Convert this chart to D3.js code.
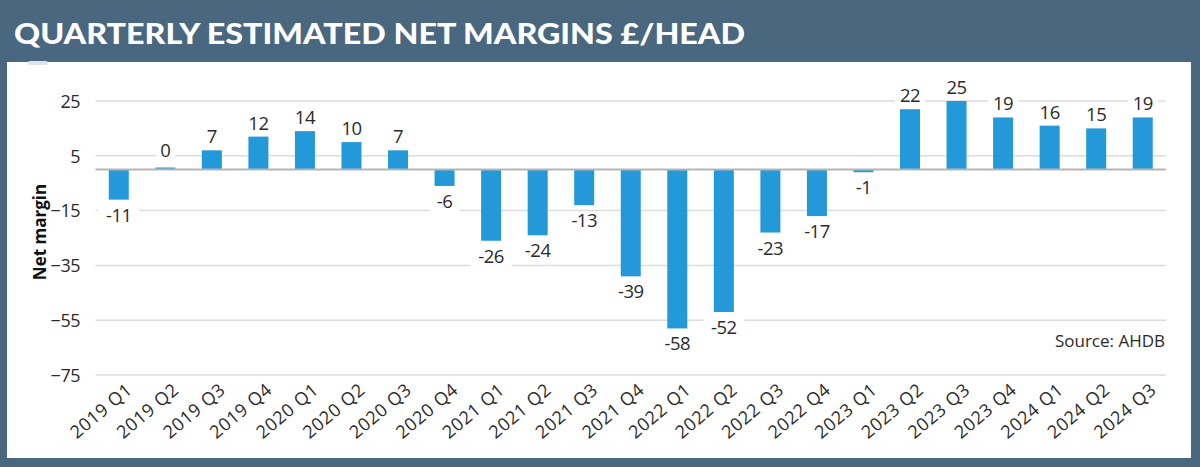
<!DOCTYPE html>
<html>
<head>
<meta charset="utf-8">
<script src="https://cdn.jsdelivr.net/npm/d3@7"></script>
<style>
  html, body { margin: 0; padding: 0; background: #4a6780; }
  svg { display: block; }
</style>
</head>
<body>
<svg id="chart" width="1200" height="467"></svg>
<script>
const categories = ["2019 Q1","2019 Q2","2019 Q3","2019 Q4","2020 Q1","2020 Q2","2020 Q3","2020 Q4",
  "2021 Q1","2021 Q2","2021 Q3","2021 Q4","2022 Q1","2022 Q2","2022 Q3","2022 Q4",
  "2023 Q1","2023 Q2","2023 Q3","2023 Q4","2024 Q1","2024 Q2","2024 Q3"];
const values = [-11, 0, 7, 12, 14, 10, 7, -6, -26, -24, -13, -39, -58, -52, -23, -17, -1, 22, 25, 19, 16, 15, 19];
const yTicks = [25, 5, -15, -35, -55, -75];
const title = "QUARTERLY ESTIMATED NET MARGINS £/HEAD";
const yTitle = "Net margin";
const source = "Source: AHDB";

const svg = d3.select("#chart");
const W = 1200, H = 467;
const dark = "#4a6780";
const barColor = "#2499d9";
const textColor = "#2b2b2b";

svg.append("rect").attr("width", W).attr("height", H).attr("fill", dark);
// white panel
svg.append("rect").attr("x", 7).attr("y", 62).attr("width", 1184).attr("height", 396).attr("fill", "#ffffff");
// small tab
svg.append("rect").attr("x", 28).attr("y", 61).attr("width", 20).attr("height", 4).attr("rx", 2).attr("fill", "#dfe4e8");

svg.append("text")
  .attr("x", 14).attr("y", 44)
  .attr("font-family", "Lato, 'Open Sans', sans-serif")
  .attr("font-weight", 900)
  .attr("font-size", 29)
  .attr("fill", "#ffffff")
  .attr("textLength", 731)
  .attr("lengthAdjust", "spacingAndGlyphs")
  .text(title);

const x = d3.scaleBand().domain(categories).range([95.5, 1166]).paddingInner(0.57).paddingOuter(0.285);
const y = d3.scaleLinear().domain([-75, 25]).range([375, 101]);

const font = "'Open Sans', Lato, sans-serif";

// gridlines
const grid = svg.append("g");
grid.selectAll("line").data(yTicks).join("line")
  .attr("x1", x.range()[0]).attr("x2", x.range()[1])
  .attr("y1", d => y(d)).attr("y2", d => y(d))
  .attr("stroke", "#dcdcdc").attr("stroke-width", 1.5);

// y-axis labels
const yAxis = svg.append("g").attr("transform", "translate(80,0)")
  .call(d3.axisLeft(y).tickValues(yTicks).tickSize(0).tickPadding(0).tickFormat(d3.format("d")));
yAxis.select(".domain").remove();
yAxis.selectAll("text")
  .attr("font-family", font).attr("font-size", 18).attr("fill", textColor)
  .attr("letter-spacing", "-0.5")
  .attr("dy", "0.35em");

// bars
svg.append("g").selectAll("rect").data(values).join("rect")
  .attr("x", (d, i) => x(categories[i]))
  .attr("width", x.bandwidth())
  .attr("y", d => d >= 0 ? y(d) - (d === 0 ? 2 : 0) : y(0))
  .attr("height", d => Math.max(Math.abs(y(d) - y(0)), 2))
  .attr("fill", barColor);

// zero line
svg.append("line")
  .attr("x1", x.range()[0]).attr("x2", x.range()[1])
  .attr("y1", y(0)).attr("y2", y(0))
  .attr("stroke", "#b5b5b5").attr("stroke-width", 2);

// value labels with white backgrounds
const lbl = svg.append("g").selectAll("g").data(values).join("g")
  .attr("transform", (d, i) => {
    const cx = x(categories[i]) + x.bandwidth() / 2;
    const yy = d >= 0 ? y(d) - (d === 0 ? 13 : 7) : y(d) + 22;
    return `translate(${cx},${yy})`;
  });
lbl.append("rect")
  .attr("x", d => -(String(d).length * 5.5 + 4))
  .attr("y", -15)
  .attr("width", d => String(d).length * 11 + 8)
  .attr("height", 19)
  .attr("fill", "#ffffff");
lbl.append("text")
  .attr("text-anchor", "middle")
  .attr("font-family", font).attr("font-size", 18.5).attr("fill", textColor)
  .attr("letter-spacing", "-0.5")
  .text(d => d);

// x-axis labels
const xAxis = svg.append("g").attr("transform", "translate(0,380)")
  .call(d3.axisBottom(x).tickSize(0).tickPadding(0));
xAxis.select(".domain").remove();
xAxis.selectAll("text")
  .attr("font-family", font).attr("font-size", 18).attr("fill", textColor)
  .attr("letter-spacing", "0.6")
  .attr("text-anchor", "end")
  .attr("dy", "0.85em")
  .attr("transform", "translate(5,0) rotate(-40)");

// y title
svg.append("text")
  .attr("transform", "translate(46,232) rotate(-90)")
  .attr("text-anchor", "middle")
  .attr("font-family", "'Open Sans', Lato, sans-serif")
  .attr("font-weight", 700)
  .attr("font-size", 17)
  .attr("fill", "#111")
  .text(yTitle);

// source
svg.append("text")
  .attr("x", 1165).attr("y", 347)
  .attr("text-anchor", "end")
  .attr("font-family", font).attr("font-size", 17).attr("fill", textColor)
  .text(source);
</script>
</body>
</html>
